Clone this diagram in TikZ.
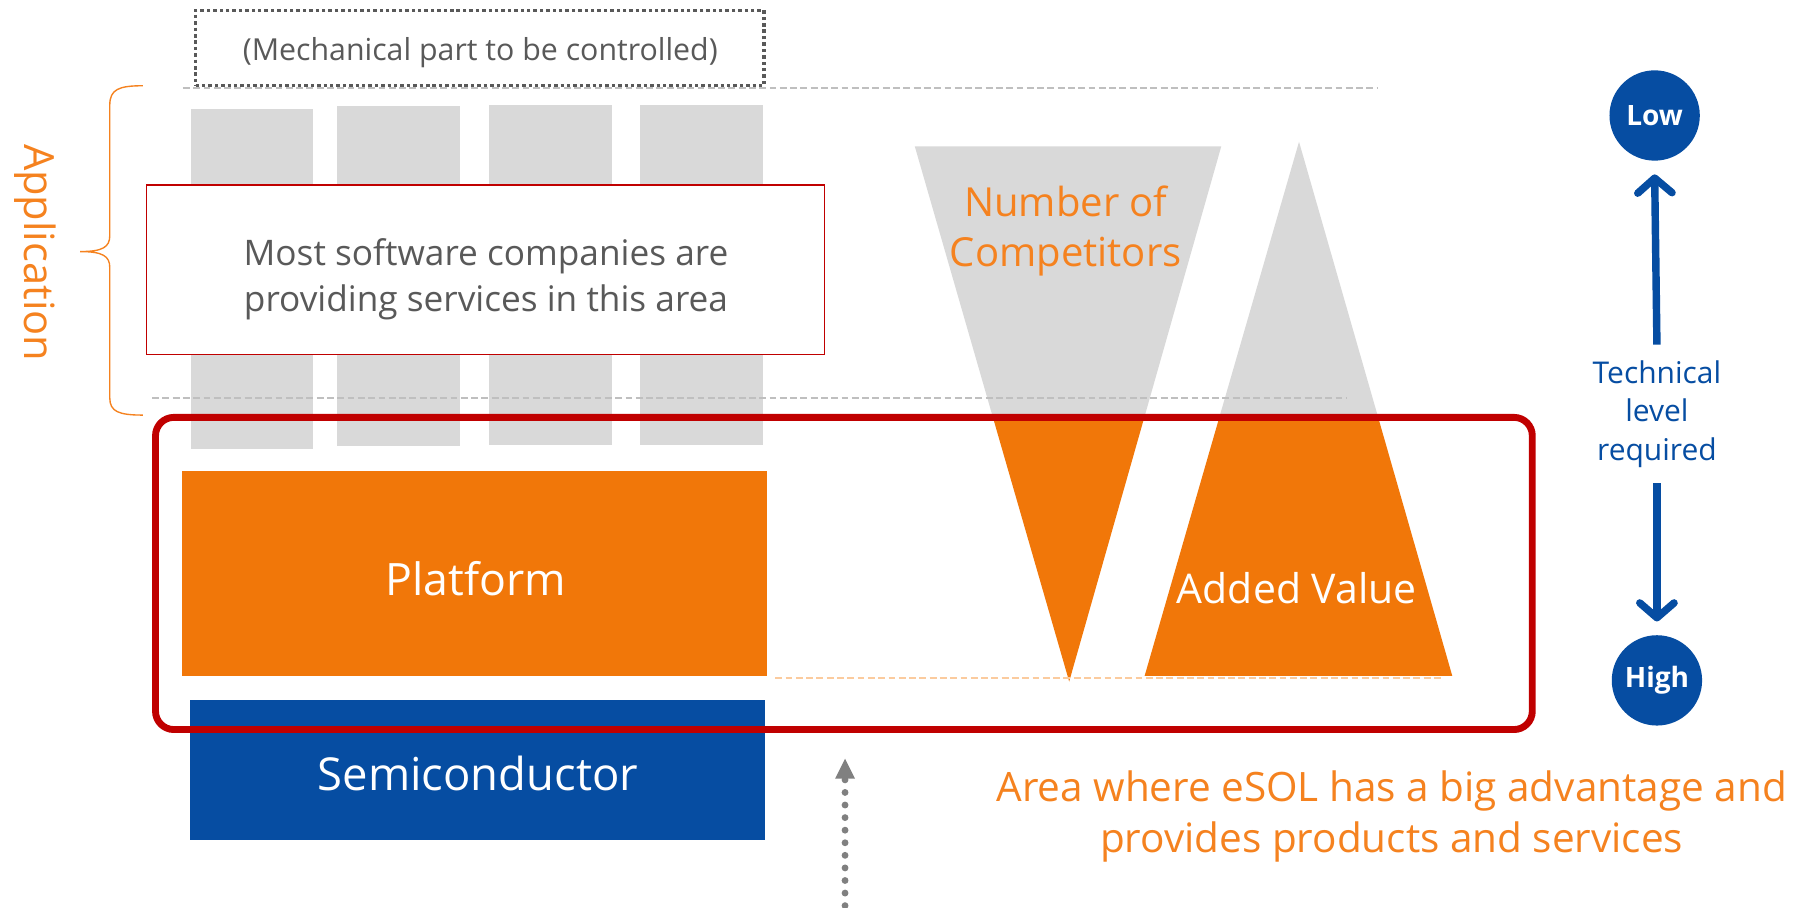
\documentclass[tikz,border=0pt]{standalone}
\usepackage{fontspec}
\setmainfont{Open Sans}
\usetikzlibrary{arrows.meta}
\definecolor{cgray}{HTML}{D9D9D9}
\definecolor{cred}{HTML}{C00000}
\definecolor{corange}{HTML}{F17709}
\definecolor{ctorange}{HTML}{F5821F}
\definecolor{cblue}{HTML}{064DA2}
\definecolor{cdash}{HTML}{BFBFBF}
\definecolor{clorange}{HTML}{FBCB9E}
\definecolor{cmech}{HTML}{595959}
\definecolor{cdots}{HTML}{808080}
\newcommand{\fs}[2]{\fontsize{#1}{#2}\selectfont}
\begin{document}
\begin{tikzpicture}[x=1pt,y=-1pt,
  every node/.style={inner sep=0pt, outer sep=0pt, align=center},
  graycol/.style={fill=cgray, anchor=north west, minimum width=107pt},
  sqbox/.style={anchor=north west},
  gdash/.style={draw=cdash, line width=1.8pt, dash pattern=on 6pt off 3pt},
  odash/.style={draw=clorange, line width=1.8pt, dash pattern=on 6pt off 3pt},
  bluearrow/.style={draw=cblue, line width=6.5pt, -{Straight Barb[length=13pt,width=30pt,line cap=round,line join=round]}},
  bluecirc/.style={circle, fill=cblue, minimum size=79pt, text=white, font=\bfseries\fs{24.5}{28}}
]
\useasboundingbox (0,0) rectangle (1568,794);
\fill[white] (0,0) rectangle (1568,794);

% application columns
\node[graycol, minimum height=298pt] (col1) at (167,95) {};
\node[graycol, minimum height=297pt] (col2) at (295,93) {};
\node[graycol, minimum height=297pt] (col3) at (428,92) {};
\node[graycol, minimum height=297pt] (col4) at (560,92) {};

% mechanical part
\node[sqbox, draw=cmech, line width=3pt, dash pattern=on 3pt off 2.6pt,
  minimum width=497pt, minimum height=66pt] (mech) at (171,9) {};
\node[text=cmech, font=\fs{26.5}{30}] (mechtxt) at (420,46) {(Mechanical part to be controlled)};

% dashed lines
\coordinate (d1l) at (160,77);
\coordinate (d1r) at (1205,77);
\draw[gdash] (d1l) -- (d1r);

% text box
\node[sqbox, draw=cred, line width=1.5pt, fill=white, minimum width=593pt, minimum height=148pt] (most) at (128,162) {};
\node[text=cmech, font=\fs{30.8}{40}] (mosttxt) at (425,244)
  {Most software companies are\\providing services in this area};

% brace
\draw[ctorange, line width=1.2pt]
  (125,75) .. controls (104,75) and (96,78) .. (96,92) -- (96,206)
  .. controls (96,216) and (90,220) .. (70,220)
  .. controls (90,220) and (96,224) .. (96,234) -- (96,348)
  .. controls (96,360) and (104,363) .. (125,363);
\node[rotate=-90, text=ctorange, font=\fs{36.4}{40}] (app) at (31,221) {Application};

% triangles
\fill[cgray] (800,128) -- (1068,128) -- (1000.7,365) -- (868.3,365) -- cycle;
\fill[corange] (868.3,365) -- (1000.7,365) -- (935,596) -- cycle;
\fill[cgray] (1136,124) -- (1205.2,365) -- (1066.3,365) -- cycle;
\fill[corange] (1066.3,365) -- (1205.2,365) -- (1270,591) -- (1001,591) -- cycle;
\node[text=ctorange, font=\fs{35}{43}] (numcomp) at (932,202) {Number of\\Competitors};
\node[text=white, font=\fs{35.8}{40}] (added) at (1134,514) {Added Value};

\coordinate (d2l) at (133,348);
\coordinate (d2r) at (1178,348);
\draw[gdash] (d2l) -- (d2r);

% platform and semiconductor
\node[sqbox, fill=corange, minimum width=512pt, minimum height=179pt] (plat) at (159,412) {};
\node[text=white, font=\fs{39}{44}] (plattxt) at (416,506) {Platform};
\node[sqbox, fill=cblue, minimum width=503pt, minimum height=123pt] (semi) at (166,612) {};
\node[text=white, font=\fs{39.7}{44}] (semitxt) at (418,676) {Semiconductor};

\coordinate (d3l) at (678,593);
\coordinate (d3r) at (1262,593);
\draw[odash] (d3l) -- (d3r);

% eSOL area
\node[sqbox, draw=cred, line width=6pt, rounded corners=16pt, minimum width=1204pt, minimum height=273pt] (area) at (136,365) {};

% technical level
\node[bluecirc] (low) at (1447,101) {Low};
\node[bluecirc] (high) at (1449,595) {High};
\node[text=cblue, font=\fs{26.2}{33.5}] (tech) at (1449,362) {Technical\\level\\required};
\draw[bluearrow] ([yshift=14pt]tech.north) -- ([yshift=-12pt]low.south);
\draw[bluearrow] ([yshift=-14pt]tech.south) -- ([yshift=12pt]high.north);

% dotted arrow
\coordinate (dotb) at (739,803);
\coordinate (dott) at (739,663);
\draw[cdots, line width=6pt, line cap=round, dash pattern=on 0pt off 11pt,
  -{Triangle[length=18pt,width=16pt]}] (dotb) -- (dott);

\node[text=ctorange, font=\fs{35.4}{45}] (areatxt) at (1217,714)
  {Area where eSOL has a big advantage and\\provides products and services};
\end{tikzpicture}
\end{document}
